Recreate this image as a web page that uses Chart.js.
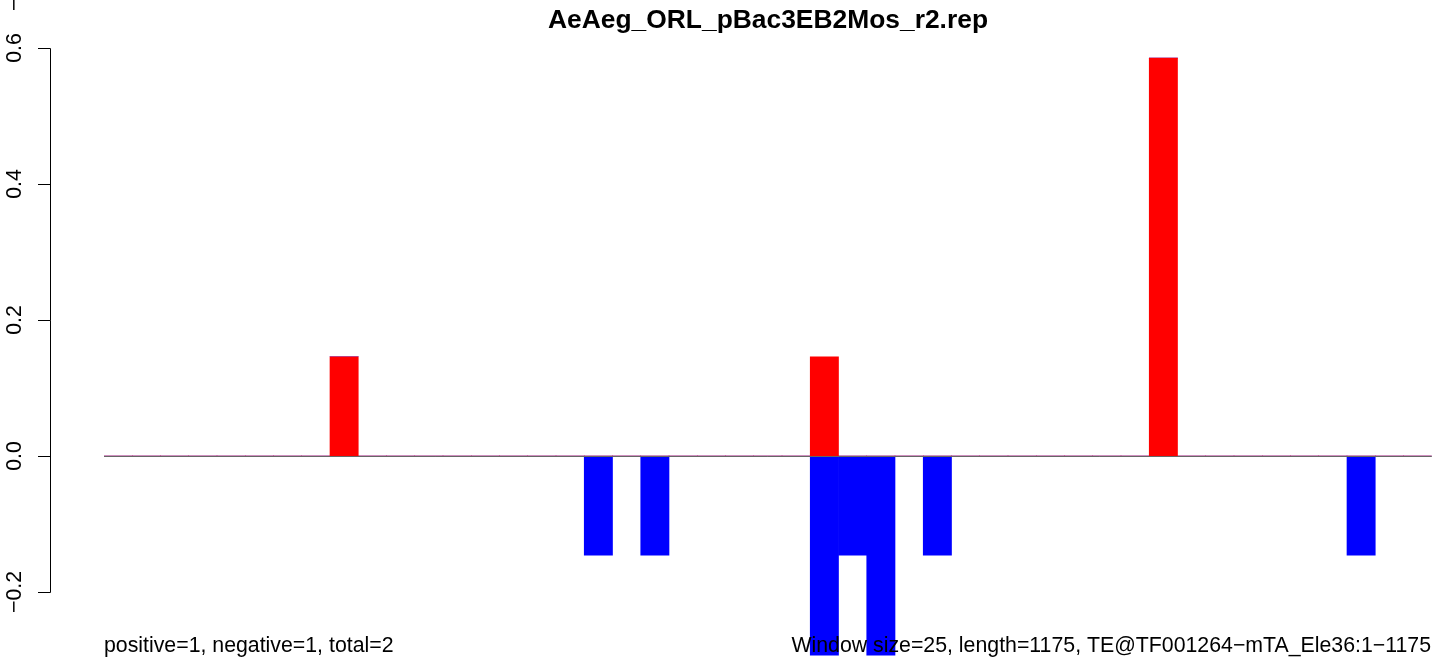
<!DOCTYPE html>
<html>
<head>
<meta charset="utf-8">
<script src="https://cdn.jsdelivr.net/npm/chart.js@4/dist/chart.umd.min.js"></script>
<style>
html,body{margin:0;padding:0;background:#fff;}
#wrap{width:1444px;height:662px;}
</style>
</head>
<body>
<div id="wrap"><canvas id="c" width="1444" height="662"></canvas></div>
<script>
const titleText = "AeAeg_ORL_pBac3EB2Mos_r2.rep";
const leftNote = "positive=1, negative=1, total=2";
const rightNote = "Window size=25, length=1175, TE@TF001264\u2212mTA_Ele36:1\u22121175";
const categories = [1,2,3,4,5,6,7,8,9,10,11,12,13,14,15,16,17,18,19,20,21,22,23,24,25,26,27,28,29,30,31,32,33,34,35,36,37,38,39,40,41,42,43,44,45,46,47];
const positiveValues = [0,0,0,0,0,0,0,0,0.146,0, 0,0,0,0,0,0,0,0,0,0, 0,0,0,0,0,0.146,0,0,0,0, 0,0,0,0,0,0,0,0.585,0,0, 0,0,0,0,0,0,0];
const negativeValues = [0,0,0,0,0,0,0,0,0,0, 0,0,0,0,0,0,0,-0.146,0,-0.146, 0,0,0,0,0,-0.293,-0.146,-0.293,0,-0.146, 0,0,0,0,0,0,0,0,0,0, 0,0,0,0,-0.146,0,0];
const yTickValues = [-0.2, 0.0, 0.2, 0.4, 0.6];
const yTickLabels = ["\u22120.2", "0.0", "0.2", "0.4", "0.6"];

const FONT = '"Liberation Sans", Arial, Helvetica, sans-serif';

const decorations = {
  id: 'decorations',
  afterDatasetsDraw(chart) {
    const ctx = chart.ctx;
    const y = chart.scales.y;
    const area = chart.chartArea;
    ctx.save();
    // zero line
    const y0 = Math.round(y.getPixelForValue(0)) + 0.5;
    ctx.strokeStyle = '#666666';
    ctx.lineWidth = 1;
    ctx.beginPath();
    ctx.moveTo(area.left, y0);
    ctx.lineTo(area.right, y0);
    ctx.stroke();

    // y axis
    const ax = 50.5;
    const yTop = Math.round(y.getPixelForValue(yTickValues[yTickValues.length-1])) + 0.5;
    const yBot = Math.round(y.getPixelForValue(yTickValues[0])) + 0.5;
    ctx.strokeStyle = '#000';
    ctx.beginPath();
    ctx.moveTo(ax, yTop);
    ctx.lineTo(ax, yBot);
    yTickValues.forEach(v => {
      const py = Math.round(y.getPixelForValue(v)) + 0.5;
      ctx.moveTo(ax, py);
      ctx.lineTo(38, py);
    });
    ctx.stroke();

    ctx.fillStyle = '#000';
    ctx.font = '21.3px ' + FONT;
    yTickValues.forEach((v, i) => {
      const py = y.getPixelForValue(v);
      ctx.save();
      ctx.translate(21, py);
      ctx.rotate(-Math.PI/2);
      ctx.textAlign = 'center';
      ctx.textBaseline = 'alphabetic';
      ctx.fillText(yTickLabels[i], 0, 0);
      ctx.restore();
    });
    // clipped label remnant at top-left
    ctx.save();
    ctx.translate(21, 11);
    ctx.rotate(-Math.PI/2);
    ctx.textAlign = 'left';
    ctx.textBaseline = 'alphabetic';
    ctx.fillText("\u2212", 0, 0);
    ctx.restore();

    // title
    ctx.font = 'bold 26.4px ' + FONT;
    ctx.textAlign = 'center';
    ctx.textBaseline = 'alphabetic';
    ctx.fillText(titleText, 768, 28);

    // bottom notes
    ctx.font = '21.3px ' + FONT;
    ctx.textAlign = 'left';
    ctx.fillText(leftNote, 104, 652);
    ctx.textAlign = 'right';
    ctx.fillText(rightNote, 1431, 652);
    ctx.restore();
  }
};

new Chart(document.getElementById('c'), {
  type: 'bar',
  data: {
    labels: categories,
    datasets: [
      { label: 'positive', data: positiveValues, backgroundColor: '#FF0000', borderWidth: 0, barPercentage: 1, categoryPercentage: 1 },
      { label: 'negative', data: negativeValues, backgroundColor: '#0000FF', borderWidth: 0, barPercentage: 1, categoryPercentage: 1 }
    ]
  },
  options: {
    responsive: false,
    animation: false,
    layout: { padding: { left: 104, right: 12.25, top: 28, bottom: 2 } },
    plugins: { legend: { display: false }, tooltip: { enabled: false }, title: { display: false } },
    scales: {
      x: { stacked: true, display: false, offset: true, grid: { display: false } },
      y: { stacked: true, display: false, min: -0.3, max: 0.62941, grid: { display: false } }
    }
  },
  plugins: [decorations]
});
</script>
</body>
</html>
